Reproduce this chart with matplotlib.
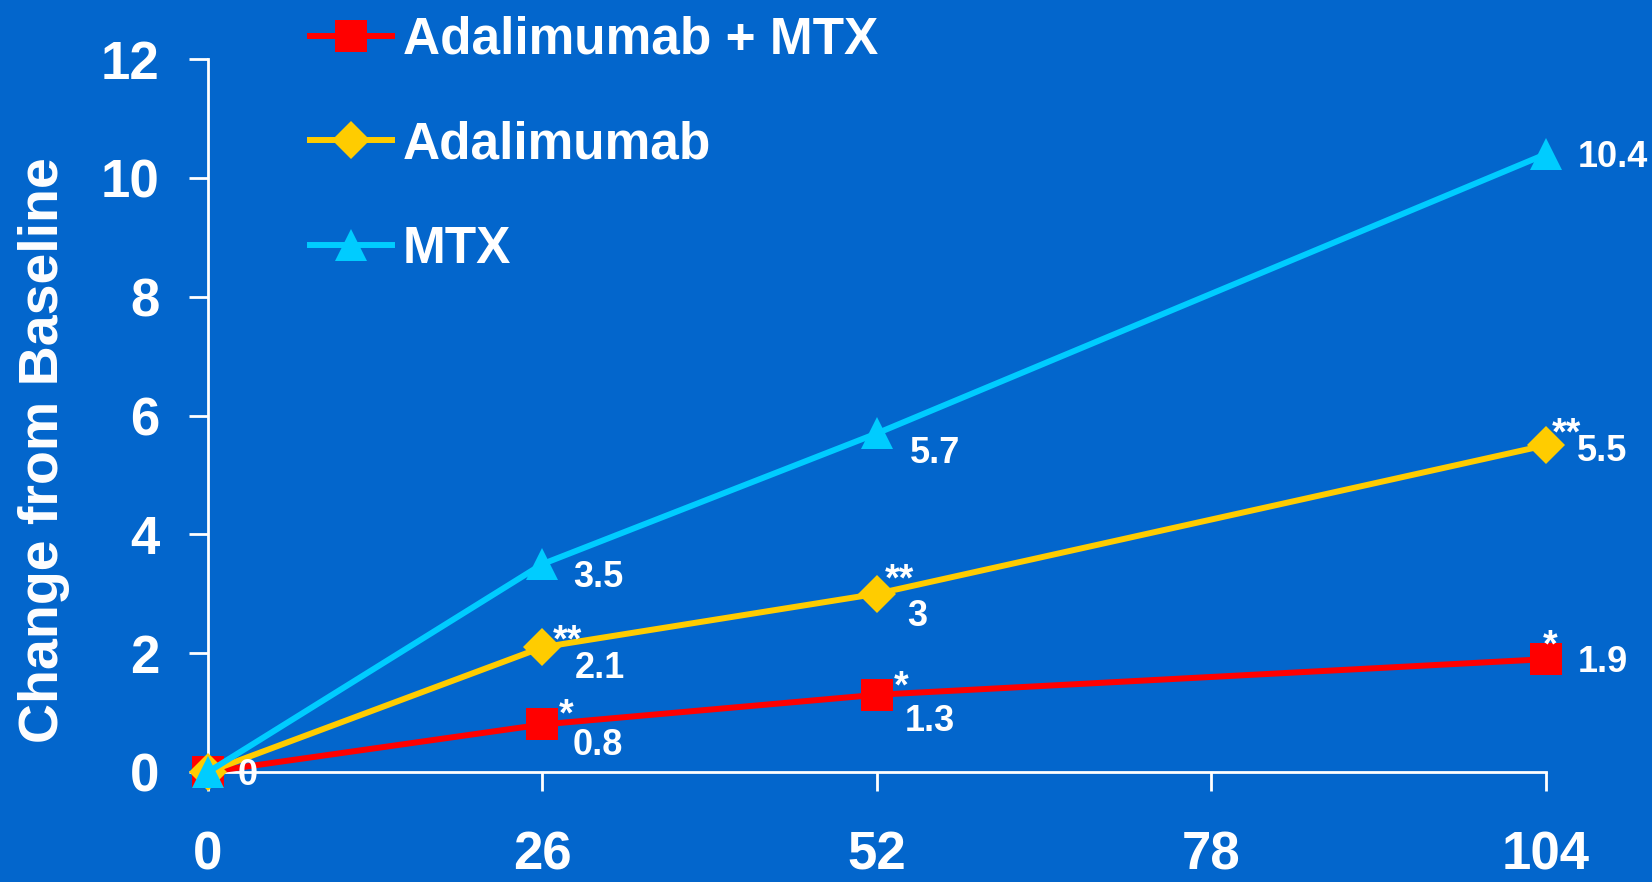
import matplotlib
matplotlib.use("Agg")
import matplotlib.pyplot as plt

# ==========================================
# Data
# ==========================================

weeks = [0, 26, 52, 104]
x_ticks = [0, 26, 52, 78, 104]
y_ticks = [0, 2, 4, 6, 8, 10, 12]

combo_vals = [0, 0.8, 1.3, 1.9]
adal_vals = [0, 2.1, 3, 5.5]
mtx_vals = [0, 3.5, 5.7, 10.4]

combo_stars = ["", "*", "*", "*"]
adal_stars = ["", "**", "**", "**"]
mtx_stars = ["", "", "", ""]

series_names = ["Adalimumab + MTX", "Adalimumab", "MTX"]
y_label = "Change from Baseline"

# ==========================================
# Style
# ==========================================

bg = "#0366CC"
plt.rcParams["font.family"] = ["Liberation Sans", "DejaVu Sans"]
plt.rcParams["font.weight"] = "bold"

# label offsets in pixels (dx right, dy down) from each point
num_offsets = {
    "combo": [(30, 0), (30.5, 18), (28, 23), (32, 0)],
    "adal": [None, (32.5, 18), (30, 19), (31, 3)],
    "mtx": [None, (30.5, 10.5), (33, 17), (32, 0)],
}
star_offsets = {
    "combo": [None, (23.5, -18.5), (24, -17), (4, -22.5)],
    "adal": [None, (25, -16), (22, -23), (21, -21)],
    "mtx": [None, None, None, None],
}

PX = 0.72  # points per pixel at dpi 100

# ==========================================
# Figure
# ==========================================

fig = plt.figure(figsize=(16.52, 8.82), dpi=100, facecolor=bg)
ax = fig.add_axes([0.1259, 0.1247, 0.8099, 0.8084])
ax.set_facecolor(bg)

series = [
    ("combo", combo_vals, combo_stars, "#FF0000", "s", 23),
    ("adal", adal_vals, adal_stars, "#FFCC00", "D", 19),
    ("mtx", mtx_vals, mtx_stars, "#00CCFF", "^", 23),
]

handles = []
for (key, vals, stars, color, marker, ms), name in zip(series, series_names):
    line, = ax.plot(
        weeks, vals,
        color=color, linewidth=4.3,
        marker=marker, markersize=ms,
        markeredgewidth=0, clip_on=False, zorder=3,
        label=name
    )
    handles.append(line)

    for i, (x, v) in enumerate(zip(weeks, vals)):
        off = num_offsets[key][i]
        if off is not None:
            ax.annotate(
                f"{v:g}", (x, v),
                xytext=(off[0] * PX, -(off[1] + 12.9) * PX),
                textcoords="offset points",
                ha="left", va="baseline",
                fontsize=26, fontweight="bold", color="white",
                annotation_clip=False, zorder=5
            )
        soff = star_offsets[key][i]
        if stars[i] and soff is not None:
            ax.annotate(
                stars[i], (x, v),
                xytext=(soff[0] * PX, -(soff[1] + 20) * PX),
                textcoords="offset points",
                ha="center", va="baseline",
                fontsize=27, fontweight="bold", color="white",
                annotation_clip=False, zorder=5
            )

# ==========================================
# Axes
# ==========================================

ax.set_xlim(0, 104)
ax.set_ylim(0, 12)
ax.set_xticks(x_ticks)
ax.set_yticks(y_ticks)

for side in ["top", "right"]:
    ax.spines[side].set_visible(False)
for side in ["left", "bottom"]:
    ax.spines[side].set_color("white")
    ax.spines[side].set_linewidth(2)

ax.tick_params(axis="both", colors="white", width=2, length=14,
               direction="out", labelsize=38)
ax.tick_params(axis="x", pad=28)
ax.tick_params(axis="y", pad=21)
for lab in ax.get_xticklabels() + ax.get_yticklabels():
    lab.set_fontweight("bold")

fig.text(44 / 1652, 1 - 450 / 882, y_label, rotation=90,
         ha="center", va="center", fontsize=40, fontweight="bold",
         color="white")

fig.legend(
    handles=handles,
    loc="upper left",
    bbox_to_anchor=(310 / 1652, 0.982),
    frameon=False,
    labelcolor="white",
    handlelength=1.6,
    handletextpad=0.21,
    labelspacing=1.08,
    borderpad=0,
    borderaxespad=0,
    prop={"weight": "bold", "size": 37},
)

fig.savefig("out.png", dpi=100, facecolor=bg)
